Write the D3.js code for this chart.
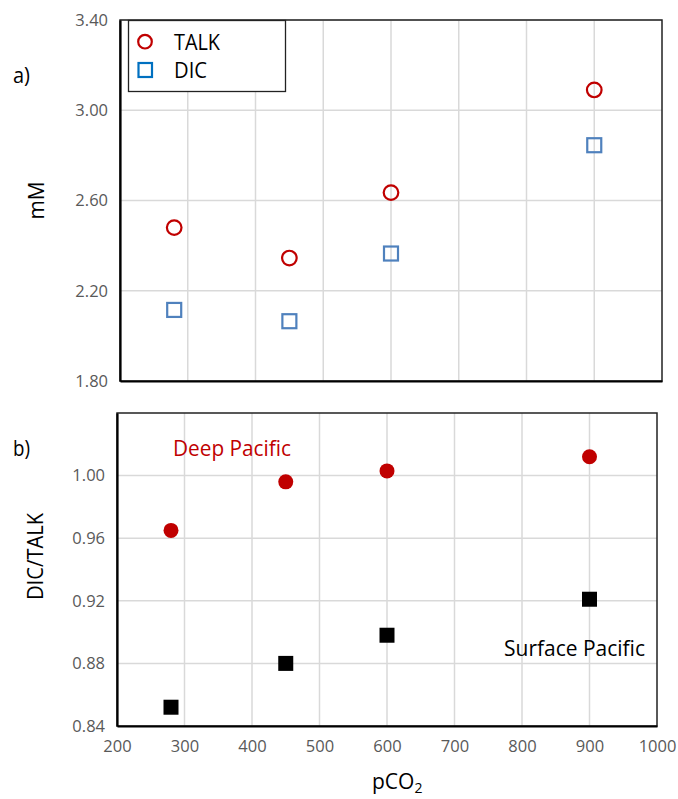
<!DOCTYPE html>
<html>
<head>
<meta charset="utf-8">
<script src="https://cdn.jsdelivr.net/npm/d3@7"></script>
<style>
  html, body { margin: 0; padding: 0; background: #fff; }
  svg { display: block; font-family: "Open Sans", "Noto Sans", sans-serif; }
</style>
</head>
<body>
<svg id="chart" width="678" height="799"></svg>
<script>
// pCO2 levels (µatm)
const pco2 = [280, 450, 600, 900];
// Panel a: total alkalinity and dissolved inorganic carbon (mM)
const talk = [2.48, 2.345, 2.635, 3.09];
const dic = [2.115, 2.065, 2.365, 2.845];
// Panel b: DIC/TALK ratio
const deepPacific = [0.965, 0.996, 1.003, 1.012];
const surfacePacific = [0.852, 0.880, 0.898, 0.921];

// Tick values
const xTicks = [200, 300, 400, 500, 600, 700, 800, 900, 1000];
const yTicksA = [1.80, 2.20, 2.60, 3.00, 3.40];
const yTicksB = [0.84, 0.88, 0.92, 0.96, 1.00];

const svg = d3.select("#chart");
const gridColor = "#d9d9d9";
const tickColor = "#595959";
const red = "#c00000";
const blue = "#4f81bd";

// condensed label helper: larger glyphs squeezed to a fixed width
function label(x, y, txt, size, width, color, anchor) {
  const t = svg.append("text").attr("x", x).attr("y", y).text(txt)
    .style("font-size", size + "px").attr("fill", color || "#000");
  if (width) t.attr("textLength", width).attr("lengthAdjust", "spacingAndGlyphs");
  if (anchor) t.attr("text-anchor", anchor);
  return t;
}

function panel(box, yDomain, yTicks, showX) {
  const x = d3.scaleLinear().domain([200, 1000]).range([box.left, box.right]);
  const y = d3.scaleLinear().domain(yDomain).range([box.bottom, box.top]);
  const g = svg.append("g");

  // gridlines
  g.append("g").selectAll("line").data(xTicks.slice(1, -1)).join("line")
    .attr("x1", d => x(d)).attr("x2", d => x(d))
    .attr("y1", box.top).attr("y2", box.bottom)
    .attr("stroke", gridColor).attr("stroke-width", 1.5);
  g.append("g").selectAll("line").data(yTicks.slice(1)).join("line")
    .attr("x1", box.left).attr("x2", box.right)
    .attr("y1", d => y(d)).attr("y2", d => y(d))
    .attr("stroke", gridColor).attr("stroke-width", 1.5);

  // frame
  g.append("rect")
    .attr("x", box.left).attr("y", box.top)
    .attr("width", box.right - box.left).attr("height", box.bottom - box.top)
    .attr("fill", "none").attr("stroke", "#222").attr("stroke-width", 1.5);

  // y axis
  const ya = g.append("g").attr("transform", `translate(${box.left},0)`)
    .call(d3.axisLeft(y).tickValues(yTicks).tickFormat(d3.format(".2f")).tickSize(0).tickPadding(12));
  ya.select(".domain").attr("stroke", "#000").attr("stroke-width", 2.2);
  ya.selectAll("text").attr("fill", tickColor).style("font-size", "16.5px")
    .style("font-family", "'Open Sans', sans-serif");

  // x axis
  const xa = g.append("g").attr("transform", `translate(0,${box.bottom})`)
    .call(d3.axisBottom(x).tickValues(xTicks).tickSize(0).tickPadding(14)
      .tickFormat(showX ? d3.format("d") : ""));
  xa.select(".domain").attr("stroke", "#000").attr("stroke-width", 2.2);
  xa.selectAll("text").attr("fill", tickColor).style("font-size", "16.5px")
    .style("font-family", "'Open Sans', sans-serif");

  return { x, y, g };
}

// ---- Panel a ----
const a = panel({ left: 120, right: 662, top: 20, bottom: 381 }, [1.8, 3.4], yTicksA, false);

a.g.append("g").selectAll("rect").data(pco2).join("rect")
  .attr("x", (d, i) => a.x(d) - 7).attr("y", (d, i) => a.y(dic[i]) - 7)
  .attr("width", 14).attr("height", 14)
  .attr("fill", "none").attr("stroke", blue).attr("stroke-width", 2.2);

a.g.append("g").selectAll("circle").data(pco2).join("circle")
  .attr("cx", d => a.x(d)).attr("cy", (d, i) => a.y(talk[i]))
  .attr("r", 7.3)
  .attr("fill", "none").attr("stroke", red).attr("stroke-width", 2.2);

// legend
const lg = svg.append("g");
lg.append("rect").attr("x", 128.5).attr("y", 20.5).attr("width", 157).attr("height", 71)
  .attr("fill", "#fff").attr("stroke", "#222").attr("stroke-width", 1.3);
lg.append("circle").attr("cx", 145).attr("cy", 41.7).attr("r", 6.8)
  .attr("fill", "none").attr("stroke", red).attr("stroke-width", 2.2);
lg.append("rect").attr("x", 138.5).attr("y", 63).attr("width", 13.5).attr("height", 14)
  .attr("fill", "none").attr("stroke", "#0070c0").attr("stroke-width", 2.2);
label(174, 49.5, "TALK", 22, 46);
label(174, 78, "DIC", 22, 33);

label(13, 83, "a)", 22, 17);
svg.append("text").attr("transform", "translate(44,200.5) rotate(-90)")
  .attr("text-anchor", "middle").text("mM")
  .style("font-size", "21px").attr("fill", "#000")
  .attr("textLength", 38).attr("lengthAdjust", "spacingAndGlyphs");

// ---- Panel b ----
const b = panel({ left: 117, right: 657, top: 413, bottom: 726 }, [0.84, 1.04], yTicksB, true);

b.g.append("g").selectAll("circle").data(pco2).join("circle")
  .attr("cx", d => b.x(d)).attr("cy", (d, i) => b.y(deepPacific[i]))
  .attr("r", 7.5).attr("fill", red);

b.g.append("g").selectAll("rect").data(pco2).join("rect")
  .attr("x", d => b.x(d) - 7.5).attr("y", (d, i) => b.y(surfacePacific[i]) - 7.5)
  .attr("width", 15).attr("height", 15).attr("fill", "#000");

label(173, 456, "Deep Pacific", 21, 118, red);
label(504, 656, "Surface Pacific", 21, 141);

label(13, 456, "b)", 22, 17);
svg.append("text").attr("transform", "translate(43,556.5) rotate(-90)")
  .attr("text-anchor", "middle").text("DIC/TALK")
  .style("font-size", "21px").attr("fill", "#000")
  .attr("textLength", 87).attr("lengthAdjust", "spacingAndGlyphs");

// x-axis title with subscript
const xt = svg.append("text").attr("x", 372).attr("y", 789)
  .style("font-size", "21px").attr("fill", "#000");
xt.append("tspan").text("pCO");
xt.append("tspan").attr("dy", 4).style("font-size", "14px").text("2");
</script>
</body>
</html>
